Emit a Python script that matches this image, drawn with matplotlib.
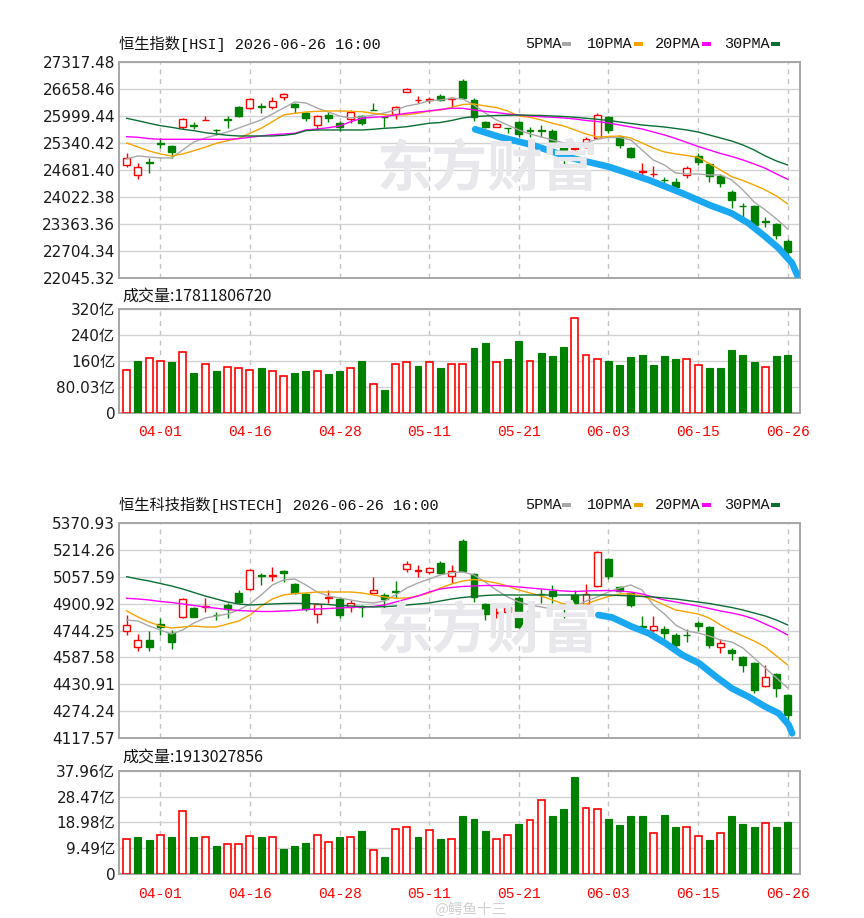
import matplotlib
matplotlib.use('Agg')
import matplotlib.pyplot as plt
from matplotlib.patches import Rectangle
import numpy as np

plt.rcParams['font.family'] = ['DejaVu Sans', 'Noto Sans CJK SC']

# ---------------- data ----------------
date_idx = [3, 11, 19, 27, 35, 43, 51, 59]
date_labels = ['04-01', '04-16', '04-28', '05-11', '05-21', '06-03', '06-15', '06-26']

hsi_title = '恒生指数[HSI] 2026-06-26 16:00'
hsi_vol_title = '成交量:17811806720'
hsi_yticks = [27317.48, 26658.46, 25999.44, 25340.42, 24681.40, 24022.38, 23363.36, 22704.34, 22045.32]
hsi_yticklabels = ['27317.48', '26658.46', '25999.44', '25340.42', '24681.40', '24022.38', '23363.36', '22704.34', '22045.32']
hsi_vol_ticks = [0, 80.03, 160.06, 240.09, 320.12]
hsi_vol_ticklabels = ['0', '80.03亿', '160亿', '240亿', '320亿']

hsi_open = [24804, 24559, 24880, 25342, 25269, 25741, 25785, 25900, 25670, 25930,
            26216, 26191, 26240, 26216, 26475, 26297, 26069, 25783, 26028, 25824,
            25922, 26003, 26160, 25980, 26052, 26590, 26400, 26385, 26500, 26430,
            26867, 26395, 25864, 25741, 25710, 25864, 25655, 25650, 25644, 25237,
            25200, 25237, 25457, 25971, 25497, 25213, 24640, 24580, 24445, 24396,
            24559, 25024, 24828, 24535, 24151, 23810, 23801, 23425, 23360, 22952]
hsi_high = [25090, 24846, 24968, 25457, 25293, 25947, 25864, 26003, 25685, 26003,
            26248, 26436, 26314, 26461, 26573, 26329, 26109, 26020, 26109, 25888,
            26150, 26028, 26329, 26003, 26248, 26696, 26493, 26470, 26549, 26475,
            26901, 26436, 25888, 25839, 25710, 25888, 25741, 25783, 25677, 25269,
            25269, 25482, 26084, 26003, 25538, 25252, 24846, 24779, 24518, 24478,
            24779, 25090, 24860, 24584, 24192, 23882, 23825, 23539, 23392, 22986]
hsi_low = [24762, 24454, 24601, 25213, 24975, 25677, 25677, 25895, 25538, 25702,
           25986, 26167, 26069, 26167, 26395, 26084, 25888, 25661, 25864, 25644,
           25839, 25783, 26140, 25727, 25922, 26590, 26329, 26320, 26370, 26231,
           26412, 25888, 25702, 25727, 25580, 25497, 25497, 25482, 25293, 24762,
           25098, 25213, 25433, 25580, 25213, 24968, 24518, 24518, 24258, 24175,
           24478, 24804, 24396, 24258, 23745, 23539, 23280, 23280, 22986, 22545]
hsi_close = [24968, 24762, 24860, 25320, 25129, 25922, 25760, 25912, 25650, 25905,
             26003, 26412, 26220, 26377, 26541, 26216, 25947, 26003, 25947, 25727,
             26109, 25839, 26150, 25970, 26216, 26656, 26405, 26420, 26395, 26436,
             26440, 25986, 25727, 25807, 25700, 25563, 25640, 25635, 25374, 25049,
             25213, 25433, 26028, 25661, 25293, 25007, 24646, 24584, 24437, 24258,
             24723, 24885, 24535, 24356, 23948, 23800, 23336, 23416, 23091, 22683]
hsi_ma5 = [24951, 25025, 25000, 24976, 24976, 25172, 25367, 25465, 25539, 25612,
           25710, 25808, 25906, 26052, 26199, 26346, 26322, 26199, 26101, 26003,
           25955, 25979, 26028, 26077, 26150, 26248, 26297, 26378, 26395, 26437,
           26420, 26273, 26077, 25906, 25783, 25661, 25563, 25490, 25416, 25343,
           25318, 25343, 25441, 25477, 25477, 25416, 25172, 24927, 24805, 24609,
           24584, 24584, 24560, 24560, 24437, 24193, 23899, 23703, 23483, 23239]
hsi_ma10 = [25343, 25245, 25147, 25074, 25025, 25074, 25154, 25238, 25335, 25399,
            25458, 25580, 25703, 25864, 26028, 26070, 26101, 26118, 26126, 26126,
            26118, 26109, 26070, 26035, 26028, 26035, 26070, 26126, 26150, 26216,
            26285, 26297, 26248, 26211, 26126, 26003, 25972, 25906, 25825, 25759,
            25661, 25563, 25490, 25502, 25514, 25465, 25343, 25220, 25123, 25074,
            25037, 24993, 24841, 24682, 24518, 24425, 24315, 24193, 24046, 23850]
hsi_ma20 = [25497, 25482, 25448, 25433, 25433, 25433, 25433, 25433, 25433, 25433,
            25448, 25482, 25514, 25546, 25563, 25580, 25661, 25685, 25717, 25759,
            25864, 25947, 25972, 25986, 26028, 26070, 26101, 26126, 26163, 26192,
            26192, 26150, 26114, 26089, 26052, 26028, 26003, 25986, 25972, 25955,
            25930, 25893, 25869, 25832, 25783, 25734, 25685, 25612, 25539, 25453,
            25355, 25257, 25172, 25086, 25012, 24927, 24829, 24724, 24584, 24455]
hsi_ma30 = [25947, 25888, 25825, 25766, 25727, 25678, 25644, 25595, 25563, 25531,
            25514, 25514, 25514, 25514, 25531, 25563, 25644, 25661, 25661, 25661,
            25661, 25661, 25678, 25702, 25717, 25742, 25783, 25825, 25844, 25893,
            25955, 25991, 26003, 26016, 26021, 26028, 26021, 26016, 26003, 25991,
            25972, 25947, 25923, 25893, 25857, 25820, 25783, 25759, 25734, 25698,
            25661, 25612, 25539, 25465, 25392, 25294, 25172, 25025, 24902, 24804]
hsi_vol = [133.5, 161, 170, 161, 157, 189, 124, 152, 129, 143,
           138.7, 133.5, 138.7, 128, 115, 124, 129, 128, 120, 129,
           138.7, 161, 87.4, 70, 152, 156, 144, 156, 138.7, 151,
           151, 199, 216.7, 156, 166, 221.6, 160, 184.8, 175.5, 203,
           294.6, 178.5, 166, 161, 147.7, 171.4, 179.8, 147.7, 175.5, 166,
           166, 146.8, 138.7, 138.7, 194, 179.8, 157, 143, 175.5, 178.1]
hsi_vol_up = [1, 0, 1, 1, 0, 1, 0, 1, 0, 1, 1, 1, 0, 1, 1, 0, 0, 1, 0, 0,
              1, 0, 1, 0, 1, 1, 0, 1, 0, 1, 1, 0, 0, 1, 0, 0, 1, 0, 0, 0,
              1, 1, 1, 0, 0, 0, 0, 0, 0, 0, 1, 1, 0, 0, 0, 0, 0, 1, 0, 0]
hsi_mark_x = [31.1, 33.2, 36.2, 38.0, 39.8, 43.0, 46.6, 49.6, 52.0, 54.0, 55.5, 57.0, 58.2, 59.4, 59.85]
hsi_mark_y = [25678, 25497, 25294, 25130, 24968, 24763, 24437, 24112, 23826, 23622, 23378, 23050, 22766, 22399, 22113]

tech_title = '恒生科技指数[HSTECH] 2026-06-26 16:00'
tech_vol_title = '成交量:1913027856'
tech_yticks = [5370.93, 5214.26, 5057.59, 4900.92, 4744.25, 4587.58, 4430.91, 4274.24, 4117.57]
tech_yticklabels = ['5370.93', '5214.26', '5057.59', '4900.92', '4744.25', '4587.58', '4430.91', '4274.24', '4117.57']
tech_vol_ticks = [0, 9.49, 18.98, 28.47, 37.96]
tech_vol_ticklabels = ['0', '9.49亿', '18.98亿', '28.47亿', '37.96亿']

tech_open = [4743, 4650, 4689, 4782, 4732, 4823, 4874, 4880, 4836, 4893,
             4961, 4984, 5065, 5060, 5092, 5013, 4957, 4840, 4935, 4926,
             4879, 4883, 4961, 4951, 4972, 5100, 5090, 5086, 5138, 5061,
             5266, 5073, 4898, 4845, 4852, 4931, 4855, 4958, 4976, 4890,
             4951, 4898, 5003, 5158, 4995, 4961, 4770, 4747, 4751, 4718,
             4720, 4790, 4763, 4647, 4631, 4592, 4557, 4422, 4491, 4369]
tech_high = [4834, 4724, 4743, 4815, 4747, 4931, 4883, 4931, 4853, 4902,
             4980, 5100, 5077, 5112, 5096, 5019, 4964, 4906, 4980, 4937,
             4922, 4893, 5054, 4961, 5034, 5150, 5125, 5115, 5150, 5125,
             5274, 5077, 4904, 4874, 4893, 4945, 4881, 4984, 5009, 4906,
             4980, 5015, 5208, 5164, 5003, 4970, 4829, 4829, 4770, 4732,
             4751, 4802, 4770, 4693, 4641, 4596, 4563, 4544, 4495, 4375]
tech_low = [4718, 4627, 4627, 4718, 4635, 4815, 4822, 4853, 4805, 4815,
            4902, 4980, 5009, 5034, 5028, 4957, 4859, 4786, 4906, 4815,
            4853, 4825, 4961, 4863, 4931, 5086, 5054, 5070, 5073, 5022,
            5086, 4912, 4805, 4815, 4823, 4759, 4817, 4902, 4902, 4815,
            4868, 4893, 5000, 5042, 4970, 4879, 4764, 4738, 4679, 4627,
            4679, 4743, 4641, 4615, 4573, 4505, 4379, 4414, 4356, 4224]
tech_close = [4776, 4689, 4650, 4763, 4679, 4926, 4825, 4885, 4834, 4868,
              4912, 5096, 5060, 5066, 5077, 4964, 4868, 4898, 4937, 4834,
              4906, 4880, 4980, 4926, 4969, 5131, 5096, 5105, 5080, 5092,
              5088, 4937, 4840, 4850, 4883, 4766, 4858, 4955, 4945, 4886,
              4893, 4957, 5202, 5061, 4976, 4893, 4766, 4770, 4732, 4660,
              4716, 4770, 4660, 4670, 4612, 4544, 4398, 4472, 4408, 4253]
tech_ma5 = [4805.3, 4799.5, 4770.3, 4747.2, 4723.9, 4747.2, 4787.9, 4817.0, 4828.6, 4840.2,
            4863.5, 4898.3, 4950.7, 5008.8, 5037.9, 5043.7, 5008.8, 4968.1, 4944.9, 4933.3,
            4921.6, 4910.0, 4904.2, 4915.8, 4950.7, 4991.4, 5020.4, 5043.7, 5066.9, 5080.3,
            5084.4, 5066.9, 5026.2, 4979.7, 4939.0, 4910.0, 4892.5, 4880.9, 4869.3, 4869.3,
            4880.9, 4915.8, 4939.0, 4968.1, 4991.4, 5008.8, 4979.7, 4892.5, 4840.2, 4776.3,
            4741.4, 4729.8, 4712.3, 4689.1, 4677.4, 4642.6, 4584.4, 4526.3, 4468.2, 4410.1]
tech_ma10 = [4857.7, 4822.8, 4793.7, 4770.3, 4758.8, 4764.6, 4770.3, 4764.6, 4764.6, 4782.0,
             4799.5, 4834.4, 4886.7, 4927.4, 4950.7, 4959.4, 4962.3, 4968.1, 4968.1, 4968.1,
             4968.1, 4962.3, 4950.7, 4939.0, 4931.5, 4933.3, 4944.9, 4962.3, 4991.4, 5014.6,
             5032.1, 5040.8, 5032.1, 5020.4, 5003.0, 4979.7, 4962.3, 4944.9, 4921.6, 4898.3,
             4886.7, 4898.3, 4921.6, 4942.0, 4956.5, 4956.5, 4944.9, 4921.6, 4892.5, 4863.5,
             4851.8, 4840.2, 4817.0, 4776.3, 4741.4, 4712.3, 4683.3, 4648.4, 4596.1, 4543.7]
tech_ma20 = [4931.5, 4927.4, 4921.6, 4912.9, 4907.1, 4898.3, 4889.6, 4880.9, 4873.3, 4866.3,
             4860.5, 4857.7, 4854.8, 4854.8, 4857.7, 4860.5, 4866.3, 4869.3, 4872.2, 4875.1,
             4879.1, 4880.9, 4883.8, 4892.5, 4910.0, 4927.4, 4944.9, 4968.1, 4985.6, 4994.3,
             5000.1, 5003.0, 5005.9, 5005.9, 5003.0, 4997.2, 4991.4, 4985.6, 4979.7, 4973.9,
             4971.0, 4973.9, 4975.7, 4976.8, 4973.9, 4968.1, 4956.5, 4939.0, 4921.6, 4910.0,
             4898.3, 4886.7, 4872.2, 4857.7, 4846.1, 4831.5, 4811.2, 4782.1, 4753.1, 4718.2]
tech_ma30 = [5057.1, 5043.7, 5032.1, 5017.5, 5003.0, 4985.6, 4965.2, 4944.9, 4927.4, 4910.0,
             4898.3, 4892.5, 4895.4, 4898.3, 4901.2, 4902.4, 4901.2, 4898.3, 4895.4, 4889.6,
             4886.7, 4883.8, 4880.9, 4882.6, 4886.7, 4892.5, 4898.3, 4904.2, 4915.8, 4927.4,
             4936.1, 4941.9, 4947.8, 4950.7, 4950.7, 4950.7, 4950.7, 4950.7, 4950.7, 4950.7,
             4950.7, 4950.7, 4950.7, 4950.7, 4947.8, 4944.9, 4942.0, 4939.0, 4933.3, 4927.4,
             4918.7, 4910.0, 4901.2, 4889.6, 4878.0, 4863.5, 4846.1, 4828.6, 4805.3, 4776.3]
tech_vol = [12.7, 13.5, 12.4, 14.5, 13.5, 23.3, 13.5, 13.5, 10.2, 11.1,
            11.1, 14.0, 13.5, 13.5, 9.1, 10.2, 11.3, 14.5, 11.6, 13.5,
            13.5, 15.7, 8.9, 6.2, 16.7, 17.2, 13.5, 16.1, 12.7, 12.7,
            21.2, 20.1, 15.7, 12.7, 14.5, 18.4, 20.0, 27.1, 21.2, 23.9,
            35.5, 24.4, 23.9, 20.1, 17.9, 21.2, 21.2, 14.9, 21.7, 17.3,
            17.3, 14.0, 12.4, 14.9, 21.2, 18.4, 17.3, 18.9, 17.3, 19.13]
tech_vol_up = [1, 0, 0, 1, 0, 1, 0, 1, 0, 1, 1, 1, 0, 1, 0, 0, 0, 1, 1, 0,
               1, 0, 1, 0, 1, 1, 0, 1, 0, 1, 0, 0, 0, 1, 1, 0, 1, 1, 0, 0,
               0, 1, 1, 0, 0, 0, 0, 1, 0, 0, 1, 1, 0, 1, 0, 0, 0, 1, 0, 0]
tech_mark_x = [42.1, 43.3, 45.1, 46.6, 48.1, 49.6, 51.1, 52.6, 54.0, 55.5, 57.0, 58.2, 59.1, 59.4]
tech_mark_y = [4834.3, 4820.9, 4766.3, 4727.9, 4669.8, 4601.8, 4553.5, 4475.6, 4408.2, 4359.4, 4301.2, 4262.9, 4194.9, 4146.6]

ma_labels = ['5PMA', '10PMA', '20PMA', '30PMA']

# ---------------- style ----------------
RED = '#ff0000'
GREEN = '#008000'
MA_COLORS = ['#a8a8a8', '#f5a300', '#ff00ff', '#0b6e35']
BLUE = '#1aa8f2'
BW = 0.62
XLIM = (-0.66, 60.1)

W, H = 864, 918
fig = plt.figure(figsize=(W / 100, H / 100), dpi=100)
fig.patch.set_facecolor('white')


def ax_px(left, top, right, bottom):
    return fig.add_axes([left / W, 1 - bottom / H, (right - left) / W, (bottom - top) / H])


def ftext(x, y, s, **kw):
    return fig.text(x / W, 1 - y / H, s, **kw)


def style_axes(ax, yticks, ylabels):
    ax.set_xlim(*XLIM)
    ax.set_yticks(yticks)
    ax.set_yticklabels(ylabels)
    ax.set_xticks(date_idx)
    ax.tick_params(axis='both', length=0)
    ax.tick_params(axis='y', pad=3, labelsize=11, labelcolor='#1a1a1a')
    ax.set_axisbelow(True)
    ax.grid(axis='y', color='#d2d2d2', lw=1.0, ls='-')
    ax.grid(axis='x', color='#c4c4c4', lw=1.0, ls=(0, (3.5, 3.5)))
    for sp in ax.spines.values():
        sp.set_color('#a6a6a6')
        sp.set_linewidth(1.4)


def draw_price(ax, o, h, l, c, mas, mark_x, mark_y, ylim, yticks, ylabels):
    x = np.arange(len(o))
    for i in range(len(o)):
        up = c[i] >= o[i]
        col = RED if up else GREEN
        ax.plot([x[i], x[i]], [l[i], h[i]], color=col, lw=1.0, zorder=3, solid_capstyle='butt')
        lo, hi = min(o[i], c[i]), max(o[i], c[i])
        ax.add_patch(Rectangle((x[i] - BW / 2, lo), BW, hi - lo,
                               facecolor='white' if up else col, edgecolor=col, lw=1.0, zorder=4))
    for ma, colr in zip(mas, MA_COLORS):
        ax.plot(x, ma, color=colr, lw=1.0, zorder=5)
    ax.plot(mark_x, mark_y, color=BLUE, lw=4.8, solid_capstyle='round', solid_joinstyle='round', zorder=6)
    ax.set_ylim(*ylim)
    style_axes(ax, yticks, ylabels)
    ax.set_xticklabels([])


def draw_volume(ax, vol, vol_up, yticks, ylabels):
    x = np.arange(len(vol))
    for i in range(len(vol)):
        if vol_up[i]:
            ax.add_patch(Rectangle((x[i] - BW / 2, 0), BW, vol[i], facecolor='white',
                                   edgecolor=RED, lw=1.2, zorder=3))
        else:
            ax.add_patch(Rectangle((x[i] - BW / 2, 0), BW, vol[i], facecolor=GREEN,
                                   edgecolor=GREEN, lw=0.8, zorder=3))
    ax.set_ylim(yticks[0], yticks[-1])
    style_axes(ax, yticks, ylabels)
    ax.set_xticklabels(date_labels)
    ax.tick_params(axis='x', pad=9, labelsize=10.5, labelcolor=RED)
    for t in ax.get_xticklabels():
        t.set_fontfamily(['Liberation Mono', 'DejaVu Sans'])


def watermark(cy):
    ftext(488, cy, '东方财富', ha='center', va='center', fontsize=40, fontweight='bold',
          color='#e8e8ec', family=['Noto Sans CJK SC'], zorder=0)


def header(y, title):
    ftext(119, y, title, ha='left', va='center', fontsize=11,
          family=['Liberation Mono', 'Noto Sans CJK SC'], color='#111111')
    xs = [524.7, 587.3, 655.3, 724.0]
    for lab, x0, colr in zip(ma_labels, xs, MA_COLORS):
        ftext(x0, y, lab, ha='left', va='center', fontsize=11,
              family=['Liberation Mono'], color='#111111')
        w = len(lab) * 9.17
        fig.patches.append(Rectangle(((x0 + w + 1) / W, 1 - (y + 2) / H), 9 / W, 4 / H,
                                     transform=fig.transFigure, facecolor=colr, edgecolor='none'))


# ---------------- HSI ----------------
ax1 = ax_px(119.3, 62.3, 800, 277.7)
draw_price(ax1, hsi_open, hsi_high, hsi_low, hsi_close,
           [hsi_ma5, hsi_ma10, hsi_ma20, hsi_ma30], hsi_mark_x, hsi_mark_y,
           (hsi_yticks[-1], hsi_yticks[0]), hsi_yticks, hsi_yticklabels)
ax2 = ax_px(119.3, 309.3, 800, 412.7)
draw_volume(ax2, hsi_vol, hsi_vol_up, hsi_vol_ticks, hsi_vol_ticklabels)
header(43.5, hsi_title)
ftext(122, 296.5, hsi_vol_title, ha='left', va='center', fontsize=11.5,
      family=['Noto Sans CJK SC'], color='#111111')

# ---------------- HSTECH ----------------
ax3 = ax_px(119.3, 522.7, 800, 738.3)
draw_price(ax3, tech_open, tech_high, tech_low, tech_close,
           [tech_ma5, tech_ma10, tech_ma20, tech_ma30], tech_mark_x, tech_mark_y,
           (tech_yticks[-1], tech_yticks[0]), tech_yticks, tech_yticklabels)
ax4 = ax_px(119.3, 770.7, 800, 874)
draw_volume(ax4, tech_vol, tech_vol_up, tech_vol_ticks, tech_vol_ticklabels)
header(505, tech_title)
ftext(122, 757, tech_vol_title, ha='left', va='center', fontsize=11.5,
      family=['Noto Sans CJK SC'], color='#111111')

for a in (ax1, ax3):
    a.patch.set_alpha(0)
watermark(170)
watermark(632)
ftext(470, 909, '@鳄鱼十三', ha='center', va='center', fontsize=10.5,
      family=['Noto Sans CJK SC'], color='#d0d0d0')

fig.savefig('out.png', dpi=100)
